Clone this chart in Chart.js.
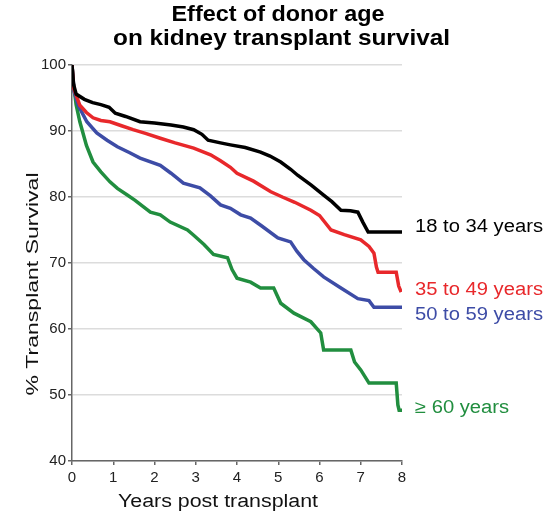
<!DOCTYPE html>
<html>
<head>
<meta charset="utf-8">
<script src="https://cdn.jsdelivr.net/npm/chart.js@4.4.1/dist/chart.umd.min.js"></script>
<style>
  html, body { margin: 0; padding: 0; background: #fff; }
  canvas { display: block; }
</style>
</head>
<body>
<canvas id="km" width="553" height="512"></canvas>
<script>
// Kaplan-Meier curves (years, % survival)
const seriesNames = ["18 to 34 years", "35 to 49 years", "50 to 59 years", "\u2265 60 years"];
const seriesColors = ["#000000", "#e8282b", "#3d4ca6", "#218e3f"];

const yrs18 = [0, 0.04, 0.1, 0.3, 0.5, 0.7, 0.9, 1.05, 1.3, 1.65, 2.0, 2.4, 2.7, 2.95, 3.15, 3.3, 3.6, 3.84, 4.2, 4.57, 4.8, 5.06, 5.3, 5.47, 5.8, 6.1, 6.3, 6.52, 6.75, 6.93, 7.05, 7.18, 8.0];
const surv18 = [100, 97, 95.6, 94.8, 94.3, 94.0, 93.6, 92.7, 92.2, 91.4, 91.2, 90.9, 90.6, 90.2, 89.5, 88.6, 88.2, 87.9, 87.5, 86.8, 86.2, 85.3, 84.2, 83.3, 81.8, 80.3, 79.3, 78.0, 77.9, 77.7, 76.2, 74.7, 74.7];

const yrs35 = [0, 0.04, 0.19, 0.35, 0.51, 0.7, 0.92, 1.2, 1.48, 1.8, 2.14, 2.5, 2.95, 3.36, 3.6, 3.84, 4.0, 4.4, 4.82, 5.1, 5.4, 5.79, 6.0, 6.28, 6.6, 7.0, 7.2, 7.32, 7.38, 7.42, 7.86, 7.92, 7.98];
const surv35 = [100, 96.5, 93.9, 92.8, 92.0, 91.6, 91.4, 90.8, 90.2, 89.6, 88.9, 88.2, 87.4, 86.4, 85.5, 84.5, 83.6, 82.4, 80.8, 80.0, 79.2, 78.0, 77.2, 75.0, 74.3, 73.5, 72.5, 71.5, 69.4, 68.6, 68.6, 66.5, 65.6];

const yrs50 = [0, 0.05, 0.15, 0.36, 0.6, 0.85, 1.1, 1.4, 1.65, 2.14, 2.4, 2.7, 3.1, 3.35, 3.6, 3.84, 4.09, 4.33, 4.6, 4.99, 5.3, 5.45, 5.62, 5.85, 6.1, 6.5, 6.93, 7.2, 7.32, 8.0];
const surv50 = [100, 96, 93.9, 91.4, 89.7, 88.6, 87.6, 86.7, 85.9, 84.8, 83.6, 82.1, 81.4, 80.2, 78.8, 78.3, 77.3, 76.8, 75.6, 73.8, 73.2, 71.8, 70.5, 69.2, 67.9, 66.3, 64.6, 64.3, 63.3, 63.3];

const yrs60 = [0, 0.03, 0.1, 0.19, 0.35, 0.51, 0.7, 0.92, 1.1, 1.34, 1.53, 1.9, 2.14, 2.38, 2.8, 2.95, 3.2, 3.43, 3.77, 3.88, 4.0, 4.33, 4.57, 4.89, 5.06, 5.38, 5.79, 6.03, 6.1, 6.76, 6.85, 7.0, 7.2, 7.86, 7.9, 7.93, 8.0];
const surv60 = [100, 97.4, 94, 91.4, 87.8, 85.3, 83.8, 82.3, 81.3, 80.3, 79.5, 77.7, 77.3, 76.2, 75.0, 74.2, 72.8, 71.3, 70.8, 69.0, 67.7, 67.1, 66.2, 66.2, 63.9, 62.4, 61.1, 59.4, 56.8, 56.8, 55.0, 53.8, 51.8, 51.8, 48.5, 47.7, 47.7];

const xTicks = [0, 1, 2, 3, 4, 5, 6, 7, 8];
const yTicks = [40, 50, 60, 70, 80, 90, 100];

const allYears = [yrs18, yrs35, yrs50, yrs60];
const allSurv = [surv18, surv35, surv50, surv60];

const datasets = seriesNames.map((name, i) => ({
  label: name,
  data: allYears[i].map((x, j) => ({ x, y: allSurv[i][j] })),
  borderColor: seriesColors[i],
  backgroundColor: seriesColors[i],
  borderWidth: 3.5,
  pointRadius: 0,
  tension: 0,
  fill: false,
}));

// text placed like the original figure (stretched a bit horizontally)
function drawText(ctx, txt, x, y, font, color, width, align) {
  ctx.save();
  ctx.font = font;
  ctx.fillStyle = color;
  ctx.textBaseline = "alphabetic";
  ctx.textAlign = "left";
  const w = ctx.measureText(txt).width;
  const sx = width / w;
  const left = align === "center" ? x - width / 2 : x;
  ctx.translate(left, y);
  ctx.scale(sx, 1);
  ctx.fillText(txt, 0, 0);
  ctx.restore();
}

const labelBaselines = [232, 295, 320, 413];

const textPlugin = {
  id: "kmText",
  afterDraw(chart) {
    const ctx = chart.ctx;
    const font = "Liberation Sans, Arial, sans-serif";
    drawText(ctx, "Effect of donor age", 278, 21, "bold 22px " + font, "#000", 213, "center");
    drawText(ctx, "on kidney transplant survival", 281.5, 44.5, "bold 22px " + font, "#000", 337, "center");

    ctx.save();
    ctx.font = "18px " + font;
    const sx = 128 / ctx.measureText(seriesNames[0]).width;
    ctx.restore();
    seriesNames.forEach((name, i) => {
      ctx.save();
      ctx.font = "18px " + font;
      const w = ctx.measureText(name).width * sx;
      ctx.restore();
      drawText(ctx, name, 415, labelBaselines[i], "18px " + font, seriesColors[i], w, "left");
    });

    drawText(ctx, "Years post transplant", 118, 507, "18px " + font, "#111", 200, "left");

    ctx.save();
    ctx.translate(38, 284);
    ctx.rotate(-Math.PI / 2);
    drawText(ctx, "% Transplant Survival", 0, 0, "17px " + font, "#111", 223, "center");
    ctx.restore();
  }
};

new Chart(document.getElementById("km"), {
  type: "line",
  data: { datasets },
  plugins: [textPlugin],
  options: {
    responsive: false,
    animation: false,
    layout: { padding: { top: 65, right: 151, bottom: 0, left: 0 } },
    scales: {
      x: {
        type: "linear",
        min: 0,
        max: 8,
        afterBuildTicks: s => { s.ticks = xTicks.map(v => ({ value: v })); },
        afterFit: s => { s.height = 51; },
        ticks: {
          color: "#222",
          font: { family: "Liberation Sans, Arial, sans-serif", size: 15 },
          padding: 4,
          maxRotation: 0,
        },
        grid: { drawOnChartArea: false, tickLength: 4, color: "#666", lineWidth: 1.5 },
        border: { color: "#666", width: 1.5 },
      },
      y: {
        min: 40,
        max: 100,
        afterBuildTicks: s => { s.ticks = yTicks.map(v => ({ value: v })); },
        afterFit: s => { s.width = 72; },
        ticks: {
          color: "#222",
          font: { family: "Liberation Sans, Arial, sans-serif", size: 15 },
          padding: 2,
        },
        grid: { color: "#dcdcdc", tickColor: "#666", tickLength: 4, lineWidth: 1.5 },
        border: { color: "#666", width: 1.5 },
      },
    },
    plugins: {
      legend: { display: false },
      title: { display: false },
      tooltip: { enabled: false },
    },
  },
});
</script>
</body>
</html>
